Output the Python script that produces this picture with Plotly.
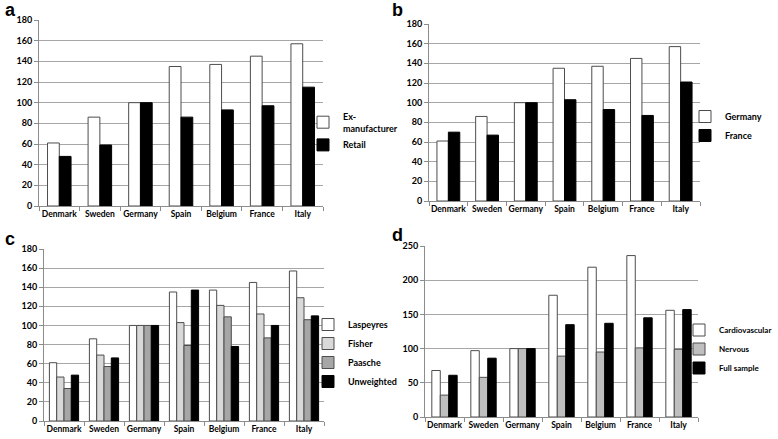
import plotly.graph_objects as go

countries = ["Denmark", "Sweden", "Germany", "Spain", "Belgium", "France", "Italy"]

# Panel a
a_ex_manufacturer = [61, 86, 100, 135, 137, 145, 157]
a_retail = [48, 59, 100, 86, 93, 97, 115]
# Panel b
b_germany = [61, 86, 100, 135, 137, 145, 157]
b_france = [70, 67, 100, 103, 93, 87, 121]
# Panel c
c_laspeyres = [61, 86, 100, 135, 137, 145, 157]
c_fisher = [46, 69, 100, 103, 121, 112, 129]
c_paasche = [34, 57, 100, 79, 109, 87, 106]
c_unweighted = [48, 66, 100, 137, 78, 100, 110]
# Panel d
d_cardiovascular = [68, 97, 100, 178, 219, 236, 156]
d_nervous = [32, 58, 100, 89, 95, 101, 99]
d_full_sample = [61, 86, 100, 135, 137, 145, 157]

FONT = "Lato"
W, H = 778, 439
OUTLINE = "#4d4d4d"
GRID = "#a6a6a6"
AXLINE = "#8c8c8c"

def px_x(a, b):
    return [a / W, b / W]

def px_y(top, bottom):
    return [1 - bottom / H, 1 - top / H]

panels = [
    # (suffix, xdomain, ydomain, ymax, dtick, gap, legend name, legend pos px, legend font, series)
    ("", px_x(39, 323), px_y(20, 206), 180, 20, 0.42, "legend", (303, 132), 9,
     [("Ex-<br>manufacturer", a_ex_manufacturer, "#ffffff"),
      ("Retail", a_retail, "#000000")]),
    ("2", px_x(429, 700), px_y(24, 201), 180, 20, 0.41, "legend2", (685, 126), 9,
     [("Germany", b_germany, "#ffffff"),
      ("France", b_france, "#000000")]),
    ("3", px_x(44, 324), px_y(249, 421), 180, 20, 0.27, "legend3", (308, 353), 9,
     [("Laspeyres", c_laspeyres, "#ffffff"),
      ("Fisher", c_fisher, "#d9d9d9"),
      ("Paasche", c_paasche, "#a6a6a6"),
      ("Unweighted", c_unweighted, "#000000")]),
    ("4", px_x(425, 698), px_y(246, 417), 250, 50, 0.35, "legend4", (679, 349), 8,
     [("Cardiovascular", d_cardiovascular, "#ffffff"),
      ("Nervous", d_nervous, "#bfbfbf"),
      ("Full sample", d_full_sample, "#000000")]),
]

fig = go.Figure()
layout = dict(
    width=W, height=H,
    margin=dict(l=0, r=0, t=0, b=0, autoexpand=False),
    paper_bgcolor="white", plot_bgcolor="white",
    barmode="overlay",
    font=dict(family=FONT, size=9, color="#000000"),
    showlegend=True,
)

for suffix, xd, yd, ymax, dtick, gap, legname, legpos, legfont, series in panels:
    n = len(series)
    group = 1 - gap
    w = group / n
    for i, (name, vals, color) in enumerate(series):
        fig.add_trace(go.Bar(
            x=countries, y=vals, name=name,
            xaxis="x" + suffix, yaxis="y" + suffix,
            width=w, offset=-group / 2 + i * w,
            marker=dict(color=color,
                        line=dict(color=OUTLINE if color != "#000000" else "#000000", width=1)),
            legend=legname,
        ))
    layout["xaxis" + suffix] = dict(
        domain=xd, anchor="y" + suffix, type="category",
        showline=True, linecolor=AXLINE, linewidth=1,
        ticks="outside", ticklen=4, tickcolor=AXLINE, tickson="boundaries",
        tickangle=0, showgrid=False, automargin=False,
        tickfont=dict(family=FONT, size=8.5, weight="bold"),
        fixedrange=True,
    )
    layout["yaxis" + suffix] = dict(
        domain=yd, anchor="x" + suffix, range=[0, ymax], dtick=dtick,
        showline=True, linecolor=AXLINE, linewidth=1,
        ticks="outside", ticklen=4, tickcolor=AXLINE,
        showgrid=True, gridcolor=GRID, gridwidth=1, zeroline=False, automargin=False,
        tickfont=dict(family=FONT, size=9, weight="bold"),
        fixedrange=True,
    )
    layout[legname] = dict(
        x=legpos[0] / W, y=1 - legpos[1] / H, xanchor="left", yanchor="middle",
        bgcolor="rgba(0,0,0,0)", borderwidth=0,
        font=dict(family=FONT, size=legfont, weight="bold"),
        tracegroupgap=0, itemclick=False, itemdoubleclick=False,
    )

fig.update_layout(**layout)

labels = [("a", 3, 10), ("b", 390, 10), ("c", 3, 239), ("d", 390, 235)]
for txt, x, y in labels:
    fig.add_annotation(text="<b>%s</b>" % txt, xref="paper", yref="paper",
                       x=x / W, y=1 - y / H, xanchor="left", yanchor="middle",
                       showarrow=False, font=dict(family="Liberation Sans", size=18, color="#000"))

fig.write_html("out.html", config={"displayModeBar": False},
               post_script="document.body.style.margin='0';document.body.style.overflow='hidden';")
